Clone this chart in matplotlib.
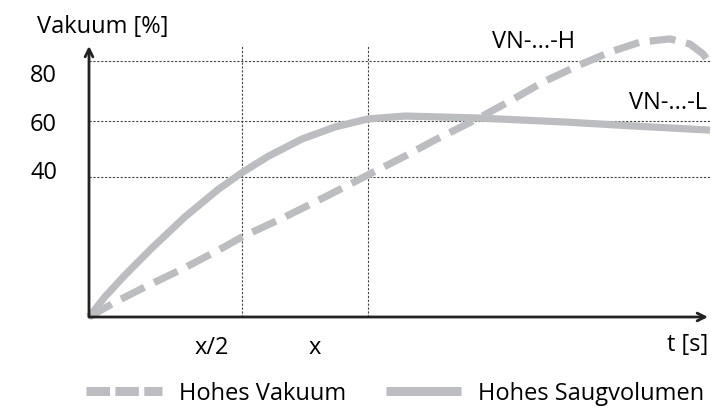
import matplotlib.pyplot as plt
from matplotlib.lines import Line2D

plt.rcParams['font.family'] = ['Open Sans', 'DejaVu Sans']
plt.rcParams['font.size'] = 17

# time axis in units of "x", vacuum in %
t_saug = [0, 0.057, 0.129, 0.226, 0.344, 0.462, 0.548, 0.642, 0.763, 0.882, 1.0,
          1.133, 1.391, 1.713, 1.950, 2.226]
v_saug = [0, 6.3, 13.1, 21.6, 31.3, 39.8, 45.1, 50.2, 55.6, 59.4, 61.9,
          62.8, 62.2, 60.9, 59.7, 58.4]

t_vak = [0, 0.093, 0.201, 0.344, 0.487, 0.548, 0.703, 0.846, 1.0, 1.133, 1.233,
         1.391, 1.509, 1.627, 1.749, 1.867, 1.975, 2.082, 2.154, 2.201, 2.219]
v_vak = [0, 4.6, 9.4, 15.4, 22.0, 25.0, 31.3, 37.5, 44.4, 50.3, 55.0,
         61.9, 67.5, 73.4, 78.4, 82.8, 85.9, 86.9, 85.3, 82.2, 80.0]

grid_y = [43.75, 61.25, 80]
grid_x = [0.548, 1.0]
ytick_labels = ['40', '60', '80']
xtick_labels = ['x/2', 'x']

grey = '#bcbdc0'
fig = plt.figure(figsize=(7.11, 4.14), dpi=100)
ax = fig.add_axes([89/711, 96/414, 619/711, 271/414])
ax.set_xlim(0, 619/279)
ax.set_ylim(0, 271/3.2)

for gy in grid_y:
    ax.plot([0, 2.24], [gy, gy], color='#444444', lw=0.8, ls=(0, (2, 1.5)), clip_on=False, zorder=1)
for gx in grid_x:
    ax.plot([gx, gx], [0, 271/3.2], color='#444444', lw=0.8, ls=(0, (2, 1.5)), zorder=1)

ax.plot(t_vak, v_vak, color=grey, lw=5.2, dashes=(3.6, 1.5), clip_on=False, zorder=3)
ax.plot(t_saug, v_saug, color=grey, lw=5.2, solid_capstyle='butt', solid_joinstyle='round',
        clip_on=False, zorder=3)

ax.text(1.593, 86.3, 'VN-...-H', ha='center', va='center')
ax.text(2.075, 67.3, 'VN-...-L', ha='center', va='center')

for s in ax.spines.values():
    s.set_visible(False)
ax.annotate('', xy=(1, 0), xytext=(0, 0), xycoords='axes fraction',
            arrowprops=dict(arrowstyle='->', lw=2, color='#222222', shrinkA=0, shrinkB=0,
                            mutation_scale=14))
ax.annotate('', xy=(0, 1), xytext=(0, 0), xycoords='axes fraction',
            arrowprops=dict(arrowstyle='->', lw=2, color='#222222', shrinkA=0, shrinkB=0,
                            mutation_scale=14))

ax.set_yticks([46.25, 61.25, 76.6], ytick_labels)
ax.set_xticks([0.44, 0.81], xtick_labels)
ax.tick_params(length=0)
ax.tick_params(axis='y', pad=23)
ax.tick_params(axis='x', pad=13)
ax.text(2.22, -8.3, 't [s]', ha='right', va='center')

fig.text(37/711, 1 - 27/414, 'Vakuum [%]', ha='left', va='center')

handles = [Line2D([], [], color=grey, lw=6.5, dashes=(2.6, 0.6)),
           Line2D([], [], color=grey, lw=6.5, solid_capstyle='butt')]
fig.legend(handles, ['Hohes Vakuum', 'Hohes Saugvolumen'], ncol=2, frameon=False,
           loc='center left', bbox_to_anchor=(86/711, 1 - 394/414), borderpad=0,
           handlelength=3.2, handletextpad=0.72, columnspacing=1.7, borderaxespad=0)

fig.savefig('out.png', dpi=100)
